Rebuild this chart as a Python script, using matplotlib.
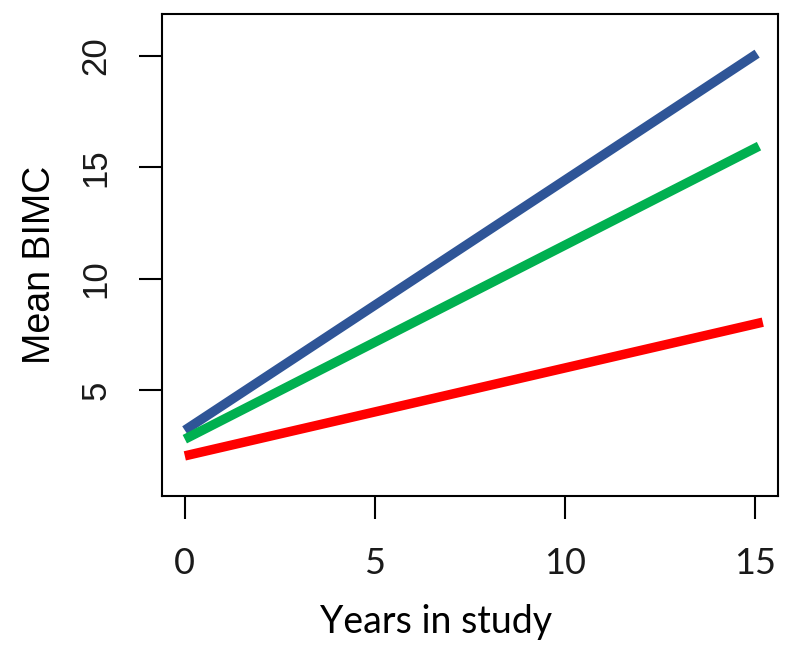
import matplotlib.pyplot as plt

# data
years = [0, 15]
blue_end = 15.05
green_end = 15.1
red_end = 15.2
blue_bimc = [3.2, 20.1]
green_bimc = [2.8, 15.95]
red_bimc = [2.05, 8.05]
xticks = [0, 5, 10, 15]
yticks = [5, 10, 15, 20]

W, H = 800, 661
fig = plt.figure(figsize=(W / 100, H / 100), dpi=100)
left, right, top, bottom = 162, 778, 14, 496
ax = fig.add_axes([left / W, 1 - bottom / H, (right - left) / W, (bottom - top) / H])

ax.plot([years[0], blue_end], blue_bimc, color='#2F5597', linewidth=6.8,
        solid_capstyle='butt')
ax.plot([years[0], green_end], green_bimc, color='#00B050', linewidth=6.8,
        solid_capstyle='butt')
ax.plot([years[0], red_end], red_bimc, color='#FF0000', linewidth=6.8,
        solid_capstyle='butt')

ax.set_xlim(-0.6, 15.6)
ax.set_ylim(0.25, 21.88)
ax.set_xticks(xticks)
ax.set_yticks(yticks)
for s in ax.spines.values():
    s.set_linewidth(1.5)

ax.tick_params(length=16.5, width=1.5, color='black', labelcolor='#1a1a1a')
ax.tick_params(axis='x', pad=20, labelsize=26)
ax.tick_params(axis='y', pad=19, labelsize=25, labelrotation=90)
for lab in ax.get_xticklabels():
    lab.set_fontfamily('Lato')
for lab in ax.get_yticklabels():
    lab.set_fontfamily('Liberation Sans')
    lab.set_va('center')

ax.set_xlabel('Years in study', fontsize=27, family='Lato', va='center')
ax.xaxis.set_label_coords(0.445, -0.262)
ax.set_ylabel('Mean BIMC', fontsize=27, family='Liberation Sans', va='center')
ax.yaxis.set_label_coords(-0.198, 0.48)

fig.savefig('out.png', dpi=100)
